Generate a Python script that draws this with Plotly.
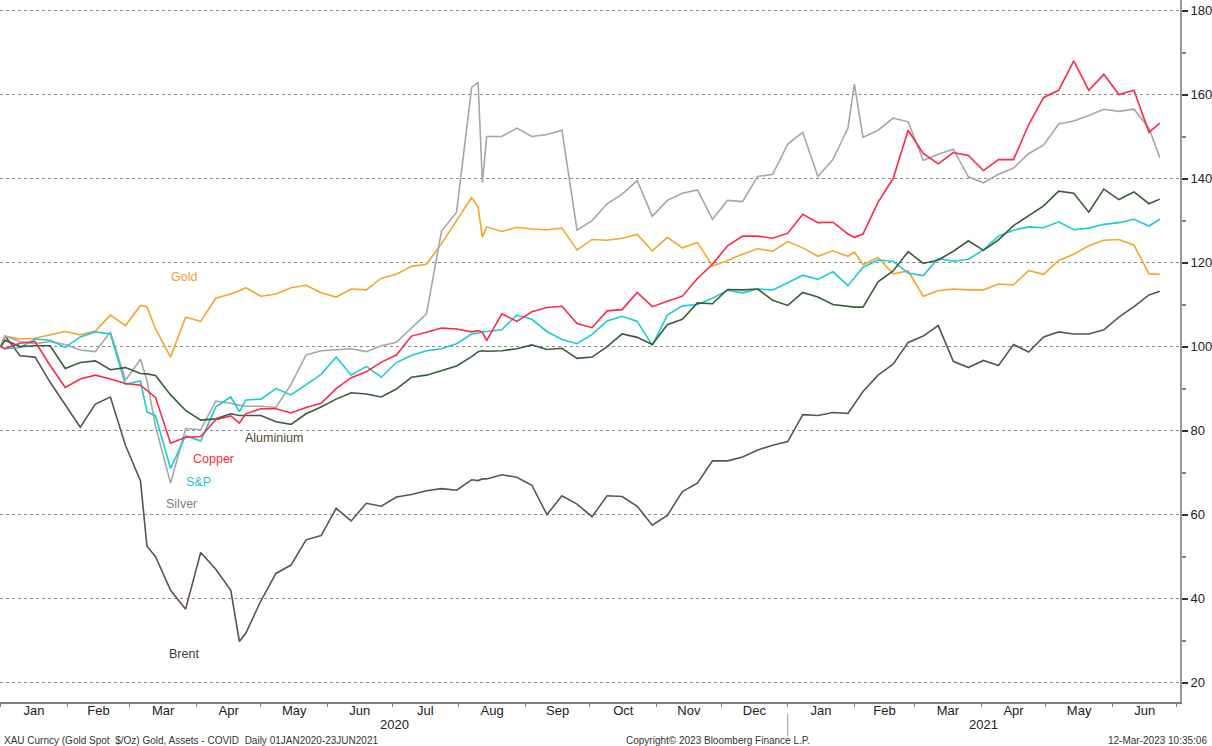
import plotly.graph_objects as go

dates = [
    "2020-01-01",
    "2020-01-03", "2020-01-10", "2020-01-17", "2020-01-24", "2020-01-31",
    "2020-02-07", "2020-02-14", "2020-02-21", "2020-02-28",
    "2020-03-06", "2020-03-09", "2020-03-13", "2020-03-20", "2020-03-27",
    "2020-04-03", "2020-04-10", "2020-04-17", "2020-04-21", "2020-04-24",
    "2020-05-01", "2020-05-08", "2020-05-15", "2020-05-22", "2020-05-29",
    "2020-06-05", "2020-06-12", "2020-06-19", "2020-06-26",
    "2020-07-03", "2020-07-10", "2020-07-17", "2020-07-24", "2020-07-31",
    "2020-08-07", "2020-08-10", "2020-08-12", "2020-08-14", "2020-08-21", "2020-08-28",
    "2020-09-04", "2020-09-11", "2020-09-18", "2020-09-25",
    "2020-10-02", "2020-10-09", "2020-10-16", "2020-10-23", "2020-10-30",
    "2020-11-06", "2020-11-13", "2020-11-20", "2020-11-27",
    "2020-12-04", "2020-12-11", "2020-12-18", "2020-12-25",
    "2021-01-01", "2021-01-08", "2021-01-15", "2021-01-22", "2021-01-29",
    "2021-02-01", "2021-02-05", "2021-02-12", "2021-02-19", "2021-02-26",
    "2021-03-05", "2021-03-12", "2021-03-19", "2021-03-26",
    "2021-04-02", "2021-04-09", "2021-04-16", "2021-04-23", "2021-04-30",
    "2021-05-07", "2021-05-14", "2021-05-21", "2021-05-28",
    "2021-06-04", "2021-06-11", "2021-06-18", "2021-06-23",
]

gold = [
    100,
    102.5, 101.8, 102.0, 102.8, 103.6,
    102.8, 103.7, 107.5, 105.0,
    109.8, 109.5, 104.2, 97.5, 107.0,
    106.0, 111.5, 112.5, 113.3, 114.0,
    112.0, 112.5, 114.0, 114.6, 112.8,
    111.8, 113.7, 113.5, 116.3,
    117.2, 119.1, 119.6, 124.5, 130.0,
    135.5, 133.2, 126.0, 128.5, 127.4, 128.4,
    128.0, 127.8, 128.2, 123.0,
    125.5, 125.3, 125.8, 126.7, 122.8,
    126.0, 123.5, 124.8, 119.2,
    120.5, 122.0, 123.3, 122.7,
    125.0, 123.5, 121.5, 122.8, 121.5,
    122.5, 119.5, 121.2, 117.3, 118.0,
    112.0, 113.3, 113.7, 113.5,
    113.5, 114.9, 114.7, 118.1, 117.2,
    120.5, 122.0, 124.0, 125.3,
    125.5, 124.2, 117.3, 117.2,
]

silver = [
    100,
    102.5, 101.2, 100.7, 101.2, 100.5,
    99.2, 98.8, 103.5, 92.0,
    97.0, 91.9, 81.0, 67.5, 80.5,
    80.2, 87.0, 86.5, 86.0, 85.8,
    85.8, 85.5, 91.0, 98.0, 99.0,
    99.3, 99.5, 98.8, 100.2,
    101.0, 104.3, 107.8, 127.5, 132.0,
    161.7, 162.9, 139.0, 150.0, 150.0, 152.0,
    150.0, 150.5, 151.5, 127.7,
    130.0, 134.0, 136.3, 139.5, 131.0,
    134.8, 136.5, 137.3, 130.3,
    134.8, 134.5, 140.5, 141.0,
    148.2, 151.0, 140.5, 144.5, 152.0,
    162.5, 149.8, 151.5, 154.4, 153.5,
    144.3, 145.8, 147.0, 140.4,
    139.0, 141.0, 142.5, 145.9, 148.0,
    153.0, 153.7, 155.0, 156.5,
    156.0, 156.5, 152.0, 145.0,
]

spx = [
    100,
    99.5, 99.8, 101.8, 101.5, 99.8,
    102.3, 103.5, 103.0, 91.0,
    91.8, 84.5, 83.5, 71.0, 78.8,
    77.5, 85.6, 88.0, 84.5, 87.3,
    87.5, 90.0, 88.5, 91.0, 93.4,
    97.5, 93.2, 95.3, 92.7,
    96.2, 97.9, 99.0, 99.5, 100.7,
    103.0, 103.2, 103.6, 103.6, 104.0, 107.5,
    106.5, 103.6, 101.7, 100.7,
    102.9, 106.1, 107.2, 106.0, 100.3,
    107.5, 109.7, 110.0, 111.5,
    113.4, 112.8, 113.7, 113.5,
    115.2, 117.0, 116.0, 117.8, 114.5,
    116.3, 118.9, 120.6, 120.3, 117.5,
    116.9, 121.0, 120.3, 120.8,
    123.0, 126.3, 127.7, 128.5, 128.3,
    129.7, 127.8, 128.2, 129.1,
    129.5, 130.3, 128.7, 130.3,
]

copper = [
    100,
    99.5, 100.8, 101.2, 95.5, 90.3,
    92.3, 93.2, 92.3, 91.2,
    90.8, 89.5, 87.9, 77.0, 78.4,
    78.6, 82.6, 83.5, 81.8, 84.0,
    85.2, 85.2, 84.2, 85.5, 86.5,
    90.0, 92.6, 94.0, 96.3,
    98.0, 102.5, 103.4, 104.4, 104.2,
    103.5, 103.8, 103.4, 101.4, 107.8, 106.0,
    108.3, 109.3, 109.6, 105.5,
    104.5, 108.5, 108.8, 112.9, 109.5,
    110.8, 112.0, 116.2, 119.6,
    124.0, 126.3, 126.3, 125.8,
    127.0, 131.5, 129.5, 129.6, 126.8,
    126.0, 126.8, 134.4, 140.0, 151.5,
    146.0, 143.5, 146.2, 145.5,
    141.9, 144.5, 144.5, 152.8, 159.3,
    161.0, 168.0, 161.0, 164.8,
    160.0, 161.0, 151.0, 153.2,
]

aluminium = [
    100,
    101.5, 100.0, 100.2, 100.2, 94.8,
    96.2, 96.6, 94.5, 95.0,
    93.6, 93.5, 93.1, 88.5, 84.8,
    82.5, 82.8, 84.0, 83.6, 83.6,
    83.6, 82.1, 81.5, 84.0, 85.6,
    87.5, 89.0, 88.7, 88.0,
    89.9, 92.7, 93.2, 94.3, 95.4,
    97.6, 98.8, 99.0, 98.9, 99.0, 99.5,
    100.4, 99.3, 99.6, 97.2,
    97.5, 100.0, 103.0, 102.2, 100.5,
    105.2, 106.5, 110.4, 110.2,
    113.6, 113.5, 113.7, 111.0,
    109.8, 112.9, 111.8, 110.0, 109.6,
    109.4, 109.4, 115.4, 118.0, 122.6,
    119.8, 120.6, 122.7, 125.2,
    122.9, 125.4, 128.8, 131.2, 133.5,
    137.0, 136.5, 132.0, 137.5,
    135.0, 136.8, 134.0, 135.1,
]

brent = [
    100,
    102.5, 97.8, 97.5, 91.5, 86.0,
    80.8, 86.3, 88.0, 76.5,
    68.0, 52.5, 50.0, 42.0, 37.5,
    51.0, 47.0, 42.0, 29.8, 31.8,
    39.5, 46.0, 48.0, 54.0, 55.0,
    61.5, 58.5, 62.7, 62.0,
    64.2, 64.8, 65.7, 66.2, 65.8,
    68.3, 68.1, 68.5, 68.5, 69.5, 68.9,
    67.0, 60.0, 64.5, 62.5,
    59.5, 64.5, 64.3, 62.0, 57.5,
    59.8, 65.5, 67.5, 72.8,
    72.8, 73.7, 75.4, 76.5,
    77.4, 83.8, 83.6, 84.3, 84.1,
    86.3, 89.3, 93.2, 95.8, 101.0,
    102.5, 105.0, 96.5, 95.0,
    96.7, 95.5, 100.5, 98.7, 102.3,
    103.5, 103.0, 103.0, 104.0,
    107.0, 109.5, 112.3, 113.2,
]

series = [
    ("Brent", brent, "#5F534B"),
    ("Gold", gold, "#F4A62A"),
    ("Silver", silver, "#A6A6A6"),
    ("S&P", spx, "#1CCBD3"),
    ("Aluminium", aluminium, "#3A5C3A"),
    ("Copper", copper, "#FF2846"),
]

# label name, x date, y value, text colour
labels = [
    ("Gold", "2020-03-26", 116.6, "#F0A030"),
    ("Aluminium", "2020-05-07", 78.3, "#4B4A30"),
    ("Copper", "2020-04-09", 73.3, "#FF2846"),
    ("S&P", "2020-04-02", 67.8, "#1CC8D0"),
    ("Silver", "2020-03-25", 62.5, "#808080"),
    ("Brent", "2020-03-26", 26.8, "#3F3A36"),
]

FONT = "Liberation Sans, Arial, sans-serif"

fig = go.Figure()
for name, vals, col in series:
    fig.add_trace(go.Scatter(
        x=dates, y=vals, mode="lines", name=name,
        line=dict(color=col, width=1.6), hoverinfo="skip", showlegend=False,
    ))

annotations = []
for text, xd, yv, col in labels:
    annotations.append(dict(
        x=xd, y=yv, xref="x", yref="y", text=text, showarrow=False,
        font=dict(family=FONT, size=12.5, color=col),
        xanchor="center", yanchor="middle",
    ))

# year labels
annotations.append(dict(x="2020-07-02", y=0, xref="x", yref="paper", yshift=-22,
                        text="2020", showarrow=False,
                        font=dict(family=FONT, size=13, color="#222"),
                        xanchor="center", yanchor="middle"))
annotations.append(dict(x="2021-04-02", y=0, xref="x", yref="paper", yshift=-22,
                        text="2021", showarrow=False,
                        font=dict(family=FONT, size=13, color="#222"),
                        xanchor="center", yanchor="middle"))

# footer
annotations.append(dict(x=0.002, y=0, xref="paper", yref="paper", yshift=-38,
                        text="XAU Curncy (Gold Spot \u00a0$/Oz) Gold, Assets - COVID \u00a0Daily 01JAN2020-23JUN2021",
                        showarrow=False, font=dict(family=FONT, size=10, color="#333"),
                        xanchor="left", yanchor="middle"))
annotations.append(dict(x=718 / 1180, y=0, xref="paper", yref="paper", yshift=-38,
                        text="Copyright\u00a9 2023 Bloomberg Finance L.P.",
                        showarrow=False, font=dict(family=FONT, size=10, color="#333"),
                        xanchor="center", yanchor="middle"))
annotations.append(dict(x=1209 / 1180, y=0, xref="paper", yref="paper", yshift=-38,
                        text="12-Mar-2023 10:35:06",
                        showarrow=False, font=dict(family=FONT, size=10, color="#333"),
                        xanchor="right", yanchor="middle"))

shapes = [dict(type="line", xref="x", yref="paper", x0="2021-01-01", x1="2021-01-01",
               y0=-12 / 702, y1=-34 / 702, line=dict(color="#9A9A9A", width=1))]

fig.update_layout(
    width=1212, height=746,
    margin=dict(l=0, r=32, t=0, b=44),
    paper_bgcolor="white", plot_bgcolor="white",
    font=dict(family=FONT, size=13, color="#222"),
    annotations=annotations, shapes=shapes,
    xaxis=dict(
        type="date",
        range=["2019-12-31 16:00", "2021-07-02 10:00"],
        dtick="M1", tick0="2020-01-01", tickformat="%b", ticklabelmode="period",
        ticks="outside", ticklen=3, tickcolor="#808080",
        ticklabelstandoff=-7,
        showgrid=False, zeroline=False,
        showline=True, linecolor="#808080", linewidth=1.5,
        tickfont=dict(family=FONT, size=13, color="#222"),
    ),
    yaxis=dict(
        side="right", range=[15.4, 182.5],
        tickmode="linear", tick0=20, dtick=20,
        ticks="outside", ticklen=6, tickcolor="#333", tickwidth=2,
        showgrid=True, gridcolor="#8C8C8C", griddash="dot", gridwidth=1,
        minor=dict(dtick=10, tick0=10, ticks="outside", ticklen=4, tickcolor="#808080",
                   showgrid=False),
        zeroline=False,
        showline=True, linecolor="#9A9A9A", linewidth=2,
        tickfont=dict(family=FONT, size=13, color="#222"),
    ),
)

fig.write_html(
    "out.html",
    config={"displayModeBar": False},
    post_script="document.body.style.margin='0px';document.body.style.overflow='hidden';",
)
